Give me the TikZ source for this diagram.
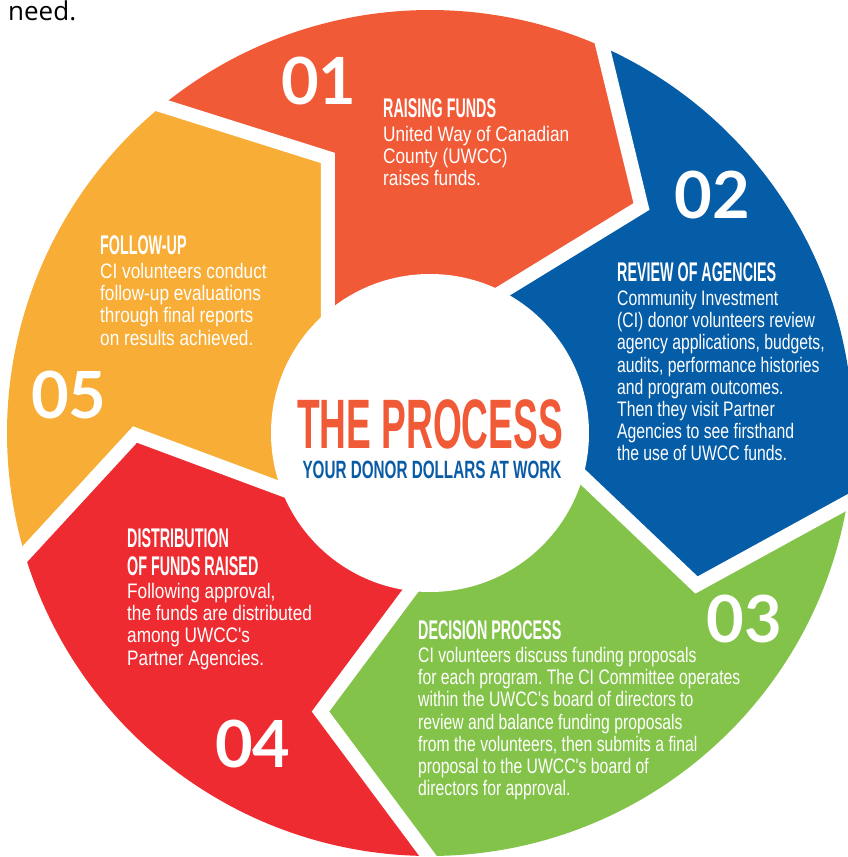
\documentclass[tikz,border=0pt]{standalone}
\usepackage{fontspec}
\usetikzlibrary{positioning,calc}
\setmainfont{Liberation Sans}
\newfontfamily\headfont[FakeStretch=0.53]{Liberation Sans}
\newfontfamily\subfont[FakeStretch=0.61]{Liberation Sans}
\newfontfamily\bodyfont[FakeStretch=0.82]{Liberation Sans}
\newfontfamily\tightfont[FakeStretch=0.75]{Liberation Sans}
\newfontfamily\numfont{Lato}
\newfontfamily\needfont{Open Sans}
\definecolor{segorange}{HTML}{F15A36}
\definecolor{segblue}{HTML}{055CA7}
\definecolor{seggreen}{HTML}{84C34A}
\definecolor{segred}{HTML}{EE2B31}
\definecolor{segyellow}{HTML}{F8AD36}
\definecolor{titleblue}{HTML}{0A5BA6}
\frenchspacing
\begin{document}
\begin{tikzpicture}[x=1pt,y=1pt,
	head/.style={font=\headfont\bfseries\fontsize{27}{27}\selectfont,text=white,inner sep=0pt,anchor=base west},
	body/.style={font=\bodyfont\fontsize{21}{22.2}\selectfont,text=white,inner sep=0pt,align=left,anchor=north west},
	tight/.style={body,font=\tightfont\fontsize{21}{22.2}\selectfont},
	num/.style={font=\numfont\bfseries\fontsize{65}{65}\selectfont,text=white,inner sep=0pt},
	gap/.style={draw=white,line width=14pt,miter limit=20}]
	\useasboundingbox (-430,-424) rectangle (418,433);
	% boundaries: outer end, tip, inner end
	\coordinate (o1) at (129.3:423); \coordinate (t1) at (-102,275);   \coordinate (i1) at (-102,122);
	\coordinate (o2) at (65.9:423);  \coordinate (t2) at (211.5,226.5); \coordinate (i2) at (72,141);
	\coordinate (o3) at (-9.44:423); \coordinate (t3) at (266.5,-152);  \coordinate (i3) at (155.5,-46.5);
	\coordinate (o4) at (-90.27:423);\coordinate (t4) at (-109.5,-278.5);\coordinate (i4) at (-22,-161);
	\coordinate (o5) at (196.65:423);\coordinate (t5) at (-295,-1.5);   \coordinate (i5) at (-148.5,-56);
	\fill[segyellow] (o5) arc[start angle=196.65,end angle=129.3,radius=423] -- (t1) -- (i1) -- (0,0) -- (i5) -- (t5) -- cycle;
	\fill[segorange] (o1) arc[start angle=129.3,end angle=65.9,radius=423] -- (t2) -- (i2) -- (0,0) -- (i1) -- (t1) -- cycle;
	\fill[segblue] (o2) arc[start angle=65.9,end angle=-9.44,radius=423] -- (t3) -- (i3) -- (0,0) -- (i2) -- (t2) -- cycle;
	\fill[seggreen] (o3) arc[start angle=-9.44,end angle=-90.27,radius=423] -- (t4) -- (i4) -- (0,0) -- (i3) -- (t3) -- cycle;
	\fill[segred] (o4) arc[start angle=-90.27,end angle=-163.35,radius=423] -- (t5) -- (i5) -- (0,0) -- (i4) -- (t4) -- cycle;
	\foreach \k in {1,...,5}
		\draw[gap] ($(t\k)!1.15!(o\k)$) -- (t\k) -- ($(t\k)!1.4!(i\k)$);
	\fill[white] (0,0) circle[radius=159];
	\node[font=\needfont\fontsize{26}{26}\selectfont,inner sep=0pt,anchor=base west] (need) at (-422,412) {need.};
	\node[font=\headfont\bfseries\fontsize{70}{70}\selectfont,text=segorange,inner sep=0pt,anchor=base] (title) at (0,-15) {THE PROCESS};
	\node[font=\subfont\bfseries\fontsize{25}{25}\selectfont,text=titleblue,inner sep=0pt,anchor=base] (subtitle) at (2,-45) {YOUR DONOR DOLLARS AT WORK};
	\node[num] (n1) at (-111,352) {01};
	\node[num] (n2) at (282.5,238) {02};
	\node[num] (n3) at (314,-185.5) {03};
	\node[num] (n4) at (-177,-311) {04};
	\node[num] (n5) at (-361,38) {05};
	\node[head] (h1) at (-47,315) {RAISING FUNDS};
	\node[body,below=8pt of h1.base west,anchor=north west] (b1) {United Way of Canadian\\County (UWCC)\\raises funds.};
	\node[head] (h2) at (187,151) {REVIEW OF AGENCIES};
	\node[tight,below=8pt of h2.base west,anchor=north west] (b2) {Community Investment\\(CI) donor volunteers review\\agency applications, budgets,\\audits, performance histories\\and program outcomes.\\Then they visit Partner\\Agencies to see firsthand\\the use of UWCC funds.};
	\node[head] (h3) at (-12,-206) {DECISION PROCESS};
	\node[tight,below=8pt of h3.base west,anchor=north west] (b3) {CI volunteers discuss funding proposals\\for each program. The CI Committee operates\\within the UWCC's board of directors to\\review and balance funding proposals\\from the volunteers, then submits a final\\proposal to the UWCC's board of\\directors for approval.};
	\node[head] (h4) at (-303,-114) {DISTRIBUTION};
	\node[head] (h4b) at (-303,-142) {OF FUNDS RAISED};
	\node[body,below=8pt of h4b.base west,anchor=north west] (b4) {Following approval,\\the funds are distributed\\among UWCC's\\Partner Agencies.};
	\node[head] (h5) at (-330,178) {FOLLOW-UP};
	\node[body,below=8pt of h5.base west,anchor=north west] (b5) {CI volunteers conduct\\follow-up evaluations\\through final reports\\on results achieved.};
\end{tikzpicture}
\end{document}
